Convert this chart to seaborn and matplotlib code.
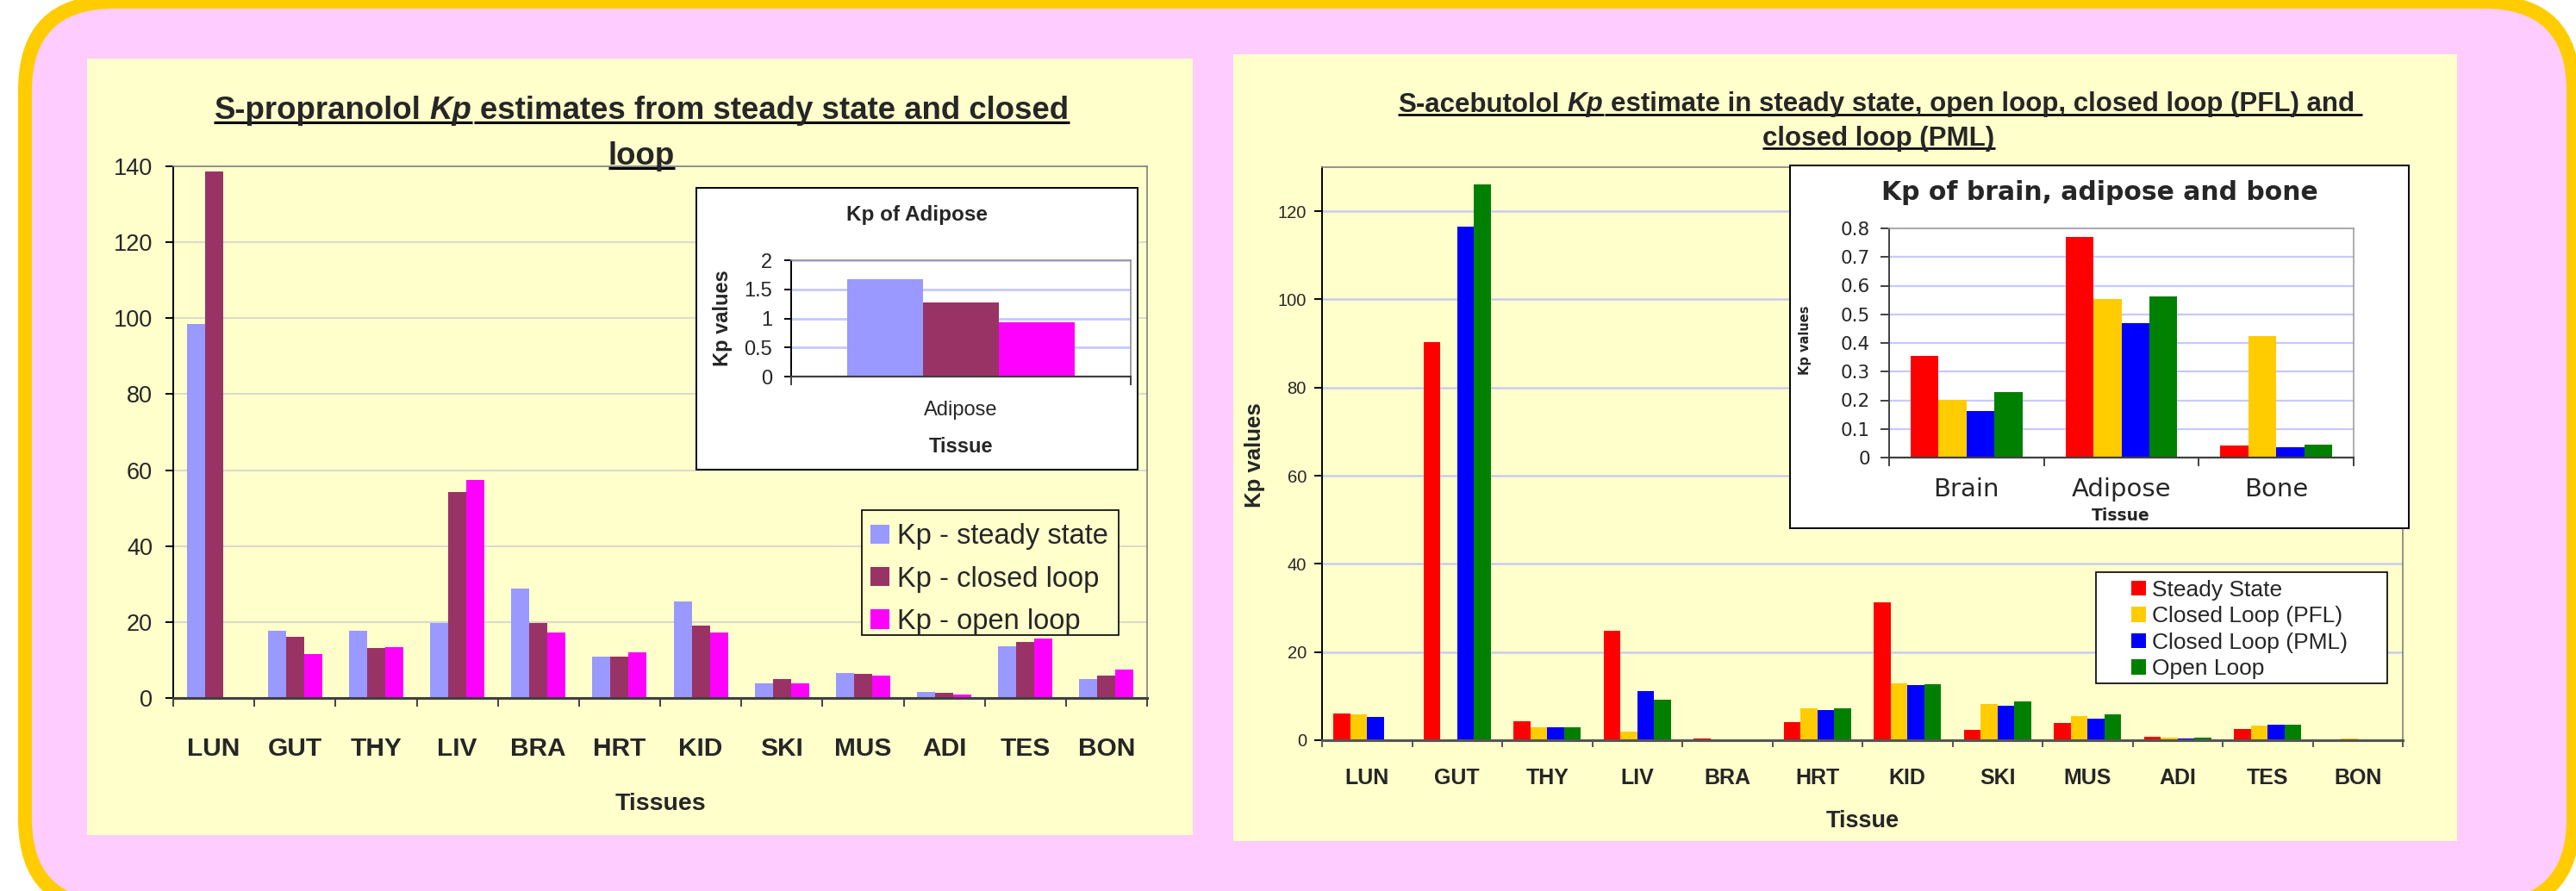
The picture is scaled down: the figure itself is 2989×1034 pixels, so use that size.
import numpy as np
import pandas as pd
import matplotlib
matplotlib.use("Agg")
import matplotlib.pyplot as plt
import seaborn as sns
from matplotlib.patches import FancyBboxPatch, Rectangle
from matplotlib.lines import Line2D
from matplotlib.transforms import Affine2D
from matplotlib.font_manager import FontProperties

# ---------------- data ----------------
tissues = ["LUN", "GUT", "THY", "LIV", "BRA", "HRT", "KID", "SKI", "MUS", "ADI", "TES", "BON"]

# S-propranolol Kp
prop_series = ["Kp - steady state", "Kp - closed loop", "Kp - open loop"]
prop_steady = [98.5, 17.6, 17.6, 19.7, 28.8, 11.0, 25.5, 3.9, 6.6, 1.67, 13.6, 5.0]
prop_closed = [138.7, 16.0, 13.1, 54.2, 19.7, 10.8, 19.0, 5.0, 6.3, 1.27, 14.7, 6.0]
prop_open = [np.nan, 11.6, 13.5, 57.4, 17.2, 12.0, 17.2, 3.9, 5.9, 0.93, 15.6, 7.5]
prop_colors = ["#9999FF", "#993366", "#FF00FF"]

# S-acebutolol Kp
ace_series = ["Steady State", "Closed Loop (PFL)", "Closed Loop (PML)", "Open Loop"]
ace_steady = [5.98, 90.4, 4.39, 24.8, 0.356, 4.2, 31.3, 2.41, 3.97, 0.771, 2.6, 0.043]
ace_pfl = [5.78, np.nan, 2.89, 2.0, 0.202, 7.17, 13.0, 8.27, 5.54, 0.552, 3.26, 0.423]
ace_pml = [5.28, 116.6, 2.89, 11.2, 0.163, 6.75, 12.6, 7.88, 4.95, 0.468, 3.45, 0.037]
ace_open = [np.nan, 126.0, 2.89, 9.17, 0.230, 7.15, 12.77, 8.86, 5.93, 0.561, 3.45, 0.046]
ace_colors = ["#FF0000", "#FFCC00", "#0000FF", "#008000"]

# inset charts: tissues picked out of the full tables
prop_inset_codes = ["ADI"]
prop_inset_names = ["Adipose"]
ace_inset_codes = ["BRA", "ADI", "BON"]
ace_inset_names = ["Brain", "Adipose", "Bone"]

prop_yticks = [0, 20, 40, 60, 80, 100, 120, 140]
ace_yticks = [0, 20, 40, 60, 80, 100, 120]
prop_inset_yticks = [0, 0.5, 1, 1.5, 2]
ace_inset_yticks = [0, 0.1, 0.2, 0.3, 0.4, 0.5, 0.6, 0.7, 0.8]

# ---------------- figure ----------------
sns.set_style("white")
SANS = "Liberation Sans"
WIDE = "DejaVu Sans"
plt.rcParams["font.family"] = [SANS, "DejaVu Sans"]

W, H, DPI = 2989, 1034, 100
fig = plt.figure(figsize=(W / DPI, H / DPI), dpi=DPI, facecolor="white")
# pixel coordinates measured from the top-left corner
T = Affine2D().scale(1.0 / W, -1.0 / H).translate(0, 1) + fig.transFigure


def fr(x0, y0, x1, y1):
    return [x0 / W, 1 - y1 / H, (x1 - x0) / W, (y1 - y0) / H]


def pt(px):
    return px * 72.0 / DPI


# background: rounded pink card with yellow rim, two pale yellow panels
bg = fig.add_axes([0, 0, 1, 1], zorder=0)
bg.set_xlim(0, W)
bg.set_ylim(H, 0)
bg.axis("off")
bg.add_patch(FancyBboxPatch((21, -6), 2994 - 21, 1061 + 6,
                            boxstyle="round,pad=0,rounding_size=111", fc="#FFCC00", ec="none"))
bg.add_patch(FancyBboxPatch((37, 10), 2978 - 37, 1045 - 10,
                            boxstyle="round,pad=0,rounding_size=95", fc="#FFCCFF", ec="none"))
bg.add_patch(Rectangle((101, 68), 1384 - 101, 969 - 68, fc="#FFFFCC", ec="none"))
bg.add_patch(Rectangle((1431, 63), 2851 - 1431, 976 - 63, fc="#FFFFCC", ec="none"))


def long_table(cats, series, columns):
    rows = []
    for s, vals in zip(series, columns):
        for c, v in zip(cats, vals):
            rows.append((c, s, v))
    return pd.DataFrame(rows, columns=["tissue", "series", "value"]).dropna()


def draw_bars(ax, cats, series, columns, colors, width, legend=False):
    df = long_table(cats, series, columns)
    sns.barplot(data=df, x="tissue", y="value", hue="series", order=cats,
                hue_order=series, palette=dict(zip(series, colors)), width=width,
                saturation=1, errorbar=None, linewidth=0, legend=legend, ax=ax)
    handles, labels = ax.get_legend_handles_labels()
    if ax.get_legend() is not None:
        ax.get_legend().remove()
    return handles, labels


def style_axes(ax, n, ymax, yticks, ylabels, ysize, yfamily, ylen, ypad,
               xlabels, xsize, xweight, xfamily, xlen, xpad,
               grid_color, grid_lw, left_color, bottom_color, bottom_lw, frame_color, face):
    ax.set_facecolor(face)
    ax.set_xlim(-0.5, n - 0.5)
    ax.set_ylim(0, ymax)
    ax.set_yticks(yticks, labels=ylabels, fontsize=ysize, family=yfamily)
    ax.set_xticks(range(n), labels=xlabels, fontsize=xsize, fontweight=xweight, family=xfamily)
    ax.set_xticks(np.arange(-0.5, n, 1.0), minor=True)
    ax.tick_params(axis="x", which="major", length=0, pad=xpad)
    ax.tick_params(axis="x", which="minor", length=xlen, width=1.4, color=bottom_color,
                   direction="out", bottom=True)
    ax.tick_params(axis="y", which="major", length=ylen, width=1.4, color=left_color,
                   pad=ypad, direction="out", left=True)
    ax.set_xlabel("")
    ax.set_ylabel("")
    ax.grid(False)
    ax.yaxis.grid(True, color=grid_color, lw=grid_lw)
    ax.set_axisbelow(True)
    for side in ("top", "right"):
        ax.spines[side].set_visible(True)
        ax.spines[side].set_color(frame_color)
        ax.spines[side].set_linewidth(1.2)
    ax.spines["left"].set_color(left_color)
    ax.spines["left"].set_linewidth(1.4)
    ax.spines["bottom"].set_color(bottom_color)
    ax.spines["bottom"].set_linewidth(bottom_lw)


def label(x, yc, s, size, weight="normal", family=SANS, rot=0, cap=0.716, z=6):
    em = size * DPI / 72.0
    if rot == 0:
        fig.text(x, yc + cap * em / 2, s, transform=T, ha="center", va="baseline",
                 fontsize=size, fontweight=weight, family=family, zorder=z)
    else:
        fig.text(x + cap * em / 2, yc, s, transform=T, ha="center", va="baseline",
                 rotation=90, rotation_mode="anchor", fontsize=size, fontweight=weight,
                 family=family, zorder=z)


def measure(s, fp):
    r = fig.canvas.get_renderer()
    w1 = r.get_text_width_height_descent("|" + s + "|", fp, ismath=False)[0]
    w2 = r.get_text_width_height_descent("||", fp, ismath=False)[0]
    return w1 - w2


def title_line(tokens, cx, base, size, target=None, trail=False, break_after=None):
    def layout(sz):
        props = [FontProperties(family=SANS, weight="bold", style=st, size=sz) for _, st in tokens]
        sp = measure(" ", props[0])
        widths = [measure(t, p) for (t, _), p in zip(tokens, props)]
        total = sum(widths) + sp * (len(tokens) - 1) + (sp if trail else 0)
        return props, sp, widths, total

    props, sp, widths, total = layout(size)
    if target:
        size *= target / total
        props, sp, widths, total = layout(size)
    x = cx - total / 2
    x_start = x
    ends = []
    for (t, _), p, w in zip(tokens, props, widths):
        fig.text(x, base, t, transform=T, fontproperties=p, ha="left", va="baseline")
        ends.append(x + w)
        x += w + sp
    x_end = x - sp + (sp if trail else 0)
    em = size * DPI / 72.0
    uy = base + 0.12 * em
    ulw = pt(0.085 * em)
    segs = [(x_start, x_end)]
    if break_after is not None:
        cut = ends[break_after]
        segs = [(x_start, cut + 1), (cut + 0.25 * sp, x_end)]
    for a, b in segs:
        fig.add_artist(Line2D([a, b], [uy, uy], transform=T, color="black", lw=ulw,
                              solid_capstyle="butt"))
    return size


def fmt(v):
    return ("%g" % v)


# ================= left chart: S-propranolol =================
axL = fig.add_axes(fr(201, 193, 1331, 810), zorder=1)
hL, lL = draw_bars(axL, tissues, prop_series, [prop_steady, prop_closed, prop_open],
                   prop_colors, 0.67, legend=True)
style_axes(axL, len(tissues), 140, prop_yticks, [fmt(v) for v in prop_yticks], 19.5, SANS,
           pt(9), pt(15), tissues, 21.5, "bold", SANS, pt(10), pt(45),
           "#DADACB", 1.5, "black", "#404040", 2.2, "#808080", "#FFFFCC")

sz = title_line([("S-propranolol", "normal"), ("Kp", "italic"),
                 ("estimates from steady state and closed", "normal")],
                744.5, 138, 25.5, target=995, break_after=1)
title_line([("loop", "normal")], 744.5, 191, sz)
label(766, 930, "Tissues", 20.5, "bold")

# legend of the left chart
bg_leg_L = Rectangle((1000, 592), 1298 - 1000, 737 - 592, transform=T, fc="#FFFFCC",
                     ec="black", lw=1.2, zorder=4.8)
fig.add_artist(bg_leg_L)
fsL = 23.5
emL = fsL * DPI / 72
fig.legend(hL, lL, loc="upper left", bbox_to_anchor=(1010 / W, 1 - (619 - 0.358 * emL) / H),
           frameon=False, borderpad=0, borderaxespad=0, fontsize=fsL,
           handlelength=22 / emL, handleheight=22 / emL, handletextpad=9 / emL,
           labelspacing=0.56).set_zorder(5)

# inset: Kp of Adipose
boxL = fig.add_axes(fr(808, 218, 1320, 545), zorder=3)
boxL.set_facecolor("white")
boxL.set_xticks([])
boxL.set_yticks([])
for s in boxL.spines.values():
    s.set_color("black")
    s.set_linewidth(1.4)
inL = fig.add_axes(fr(918, 302, 1312, 437), zorder=4)
idxL = [tissues.index(c) for c in prop_inset_codes]
draw_bars(inL, prop_inset_names, prop_series,
          [[col[i] for i in idxL] for col in (prop_steady, prop_closed, prop_open)],
          prop_colors, 0.67)
style_axes(inL, 1, 2, prop_inset_yticks, [fmt(v) for v in prop_inset_yticks], 17, SANS,
           pt(8), pt(14), prop_inset_names, 17, "normal", SANS, pt(10), pt(28),
           "#C8C8FF", 2.0, "black", "#404040", 1.6, "#909090", "white")
label(1064, 247, "Kp of Adipose", 17.5, "bold", z=7)
label(837, 369, "Kp values", 17, "bold", rot=90, z=7)
label(1115, 517, "Tissue", 17, "bold", z=7)

# ================= right chart: S-acebutolol =================
axR = fig.add_axes(fr(1534, 194, 2788, 859), zorder=1)
hR, lR = draw_bars(axR, tissues, ace_series, [ace_steady, ace_pfl, ace_pml, ace_open],
                   ace_colors, 0.75, legend=True)
style_axes(axR, len(tissues), 130, ace_yticks, [fmt(v) for v in ace_yticks], 14.5, SANS,
           pt(9), pt(9), tissues, 18, "bold", SANS, pt(8), pt(32),
           "#CACAF0", 1.8, "black", "#555555", 2.2, "#808080", "#FFFFCC")

sz = title_line([("S-acebutolol", "normal"), ("Kp", "italic"),
                 ("estimate in steady state, open loop, closed loop (PFL) and", "normal")],
                2181.5, 129.5, 21, target=1119, trail=True, break_after=1)
title_line([("closed loop (PML)", "normal")], 2180, 168.5, sz)
label(1454, 528, "Kp values", 18.5, "bold", rot=90)
label(2161, 950, "Tissue", 19.5, "bold")

bg_leg_R = Rectangle((2432, 664), 2770 - 2432, 793 - 664, transform=T, fc="white",
                     ec="black", lw=1.2, zorder=4.8)
fig.add_artist(bg_leg_R)
fsR = 19
emR = fsR * DPI / 72
fig.legend(hR, lR, loc="upper left", bbox_to_anchor=(2473 / W, 1 - (682 - 0.358 * emR) / H),
           frameon=False, borderpad=0, borderaxespad=0, fontsize=fsR,
           handlelength=17 / emR, handleheight=17 / emR, handletextpad=7 / emR,
           labelspacing=0.25).set_zorder(5)

# inset: Kp of brain, adipose and bone
boxR = fig.add_axes(fr(2077, 192, 2795, 613), zorder=3)
boxR.set_facecolor("white")
boxR.set_xticks([])
boxR.set_yticks([])
for s in boxR.spines.values():
    s.set_color("black")
    s.set_linewidth(1.4)
inR = fig.add_axes(fr(2192, 265, 2731, 531), zorder=4)
idxR = [tissues.index(c) for c in ace_inset_codes]
draw_bars(inR, ace_inset_names, ace_series,
          [[col[i] for i in idxR] for col in (ace_steady, ace_pfl, ace_pml, ace_open)],
          ace_colors, 0.72)
style_axes(inR, 3, 0.8, ace_inset_yticks, [fmt(v) for v in ace_inset_yticks], 15.5, WIDE,
           pt(10), pt(12), ace_inset_names, 21, "normal", WIDE, pt(10), pt(23),
           "#C8C8FF", 1.6, "#404040", "#404040", 1.6, "#A0A0A0", "white")
label(2436, 221, "Kp of brain, adipose and bone", 21.5, "bold", family=WIDE, cap=0.729, z=7)
label(2094, 395, "Kp values", 10.5, "bold", family=WIDE, rot=90, cap=0.729, z=7)
label(2461, 597, "Tissue", 13.5, "bold", family=WIDE, cap=0.729, z=7)

fig.savefig("out.png", dpi=DPI, facecolor="white")
